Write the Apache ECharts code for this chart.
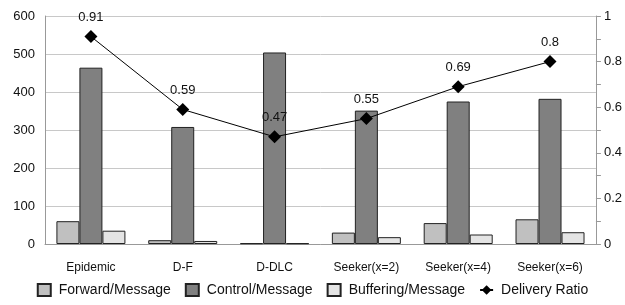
<!DOCTYPE html>
<html>
<head>
<meta charset="utf-8">
<script src="https://cdn.jsdelivr.net/npm/echarts@6/dist/echarts.min.js"></script>
<style>
  html, body { margin: 0; padding: 0; background: #fff; }
  #chart { width: 625px; height: 305px; }
</style>
</head>
<body>
<div id="chart"></div>
<script>
const categories = ["Epidemic", "D-F", "D-DLC", "Seeker(x=2)", "Seeker(x=4)", "Seeker(x=6)"];
const forwardMsg = [60, 10, 2, 30, 55, 65];
const controlMsg = [464, 308, 504, 351, 375, 382];
const bufferingMsg = [35, 8, 2, 18, 25, 31];
const deliveryRatio = [0.91, 0.59, 0.47, 0.55, 0.69, 0.8];

const FONT = "Liberation Sans";

function barSeries(name, data, color) {
    return {
        name: name,
        type: "bar",
        data: data,
        barWidth: 23,
        barGap: "0%",
        itemStyle: { color: color, borderColor: "#222", borderWidth: 1 },
    };
}

let myChart = echarts.init(document.querySelector("#chart"));
option = {
    animation: false,
    textStyle: { fontFamily: FONT },
    grid: { left: 45, right: 29, top: 16, bottom: 61 },
    legend: {
        top: 278,
        left: "center",
        itemWidth: 13,
        itemHeight: 12,
        itemGap: 14,
        textStyle: { fontSize: 14, color: "#111", fontFamily: FONT, padding: [3, 0, 0, 3] },
        data: [
            { name: "Forward/Message", icon: "rect" },
            { name: "Control/Message", icon: "rect" },
            { name: "Buffering/Message", icon: "rect" },
            { name: "Delivery Ratio" },
        ],
    },
    xAxis: {
        type: "category",
        data: categories,
        axisLine: { lineStyle: { color: "#999" } },
        axisTick: { alignWithLabel: true, length: 5, lineStyle: { color: "#999" } },
        axisLabel: { fontSize: 12, color: "#111", margin: 18 },
    },
    yAxis: [
        {
            type: "value",
            min: 0,
            max: 600,
            interval: 100,
            axisLine: { show: true, lineStyle: { color: "#999" } },
            axisTick: { show: false },
            axisLabel: { fontSize: 13, color: "#111", margin: 10 },
            splitLine: { lineStyle: { color: "#c8c8c8" } },
        },
        {
            type: "value",
            min: 0,
            max: 1,
            interval: 0.2,
            position: "right",
            axisLine: { show: true, lineStyle: { color: "#999" } },
            axisTick: { show: true, length: 5, lineStyle: { color: "#999" } },
            minorTick: { show: true, splitNumber: 2, length: 5, lineStyle: { color: "#999" } },
            axisLabel: { fontSize: 13, color: "#111", margin: 8 },
            splitLine: { show: false },
        },
    ],
    series: [
        barSeries("Forward/Message", forwardMsg, "#c0c0c0"),
        barSeries("Control/Message", controlMsg, "#808080"),
        barSeries("Buffering/Message", bufferingMsg, "#e4e4e4"),
        {
            name: "Delivery Ratio",
            type: "line",
            yAxisIndex: 1,
            data: deliveryRatio,
            symbol: "diamond",
            symbolSize: 13,
            itemStyle: { color: "#000" },
            lineStyle: { color: "#000", width: 1 },
            label: { show: true, position: "top", distance: 6, fontSize: 13, color: "#111" },
            z: 5,
        },
    ],
};
myChart.setOption(option);
</script>
</body>
</html>
